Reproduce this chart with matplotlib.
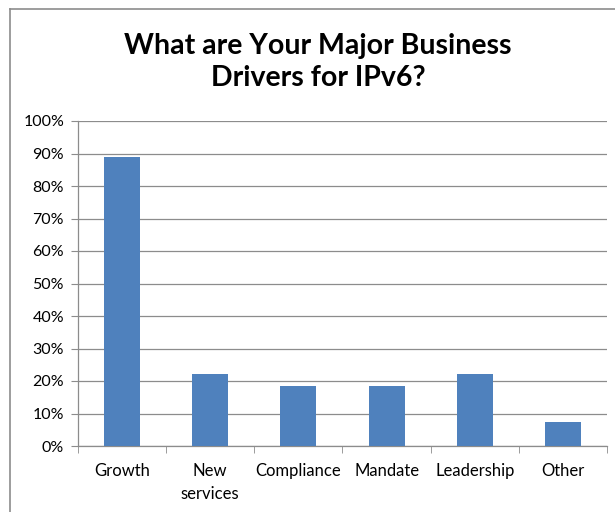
import matplotlib
matplotlib.use("Agg")
import matplotlib.pyplot as plt
from matplotlib.lines import Line2D
import numpy as np

categories = ["Growth", "New\nservices", "Compliance", "Mandate", "Leadership", "Other"]
values = [0.889, 0.222, 0.185, 0.185, 0.222, 0.074]
yticks = [0.0, 0.1, 0.2, 0.3, 0.4, 0.5, 0.6, 0.7, 0.8, 0.9, 1.0]
ytick_labels = ["0%", "10%", "20%", "30%", "40%", "50%", "60%", "70%", "80%", "90%", "100%"]
title = "What are Your Major Business\nDrivers for IPv6?"

plt.rcParams['font.family'] = ['Lato', 'DejaVu Sans']

W, H = 615, 512
fig = plt.figure(figsize=(W / 100, H / 100), dpi=100)
fig.patch.set_facecolor("white")

# outer chart frame (top and left visible)
frame_col = "#8c8c8c"
fig.add_artist(Line2D([10 / W, 10 / W], [0, 1 - 9 / H], transform=fig.transFigure, color=frame_col, lw=1.2))
fig.add_artist(Line2D([10 / W, 1], [1 - 9 / H, 1 - 9 / H], transform=fig.transFigure, color=frame_col, lw=1.2))

ax = fig.add_axes([78 / W, 1 - 446 / H, 529 / W, 325 / H])
x = np.arange(len(categories))
ax.bar(x, values, width=0.41, color="#4F81BD", zorder=3)

ax.set_xlim(-0.5, len(categories) - 0.5)
ax.set_ylim(0, 1.0)
ax.set_yticks(yticks)
ax.set_yticklabels(ytick_labels, fontsize=11.5, color="#000000")
ax.yaxis.grid(True, color="#8c8c8c", lw=0.9, zorder=0)
ax.set_axisbelow(True)

ax.set_xticks(x)
ax.set_xticklabels(categories, fontsize=12, color="#000000", linespacing=1.55)
ax.set_xticks(np.arange(-0.5, len(categories)), minor=True)
ax.tick_params(axis="x", which="major", length=0, pad=12)
ax.tick_params(axis="x", which="minor", length=5, color="#8c8c8c", direction="out")
ax.tick_params(axis="y", length=5, color="#8c8c8c", pad=5)
for lbl in ax.get_xticklabels():
    lbl.set_verticalalignment("top")

for s in ["top", "right"]:
    ax.spines[s].set_visible(False)
for s in ["left", "bottom"]:
    ax.spines[s].set_color("#8c8c8c")
    ax.spines[s].set_linewidth(0.9)

fig.text(318 / W, 1 - 62 / H, title, ha="center", va="center", fontsize=20.5,
         fontweight="bold", linespacing=1.25)

fig.savefig("out.png", dpi=100, facecolor="white")
